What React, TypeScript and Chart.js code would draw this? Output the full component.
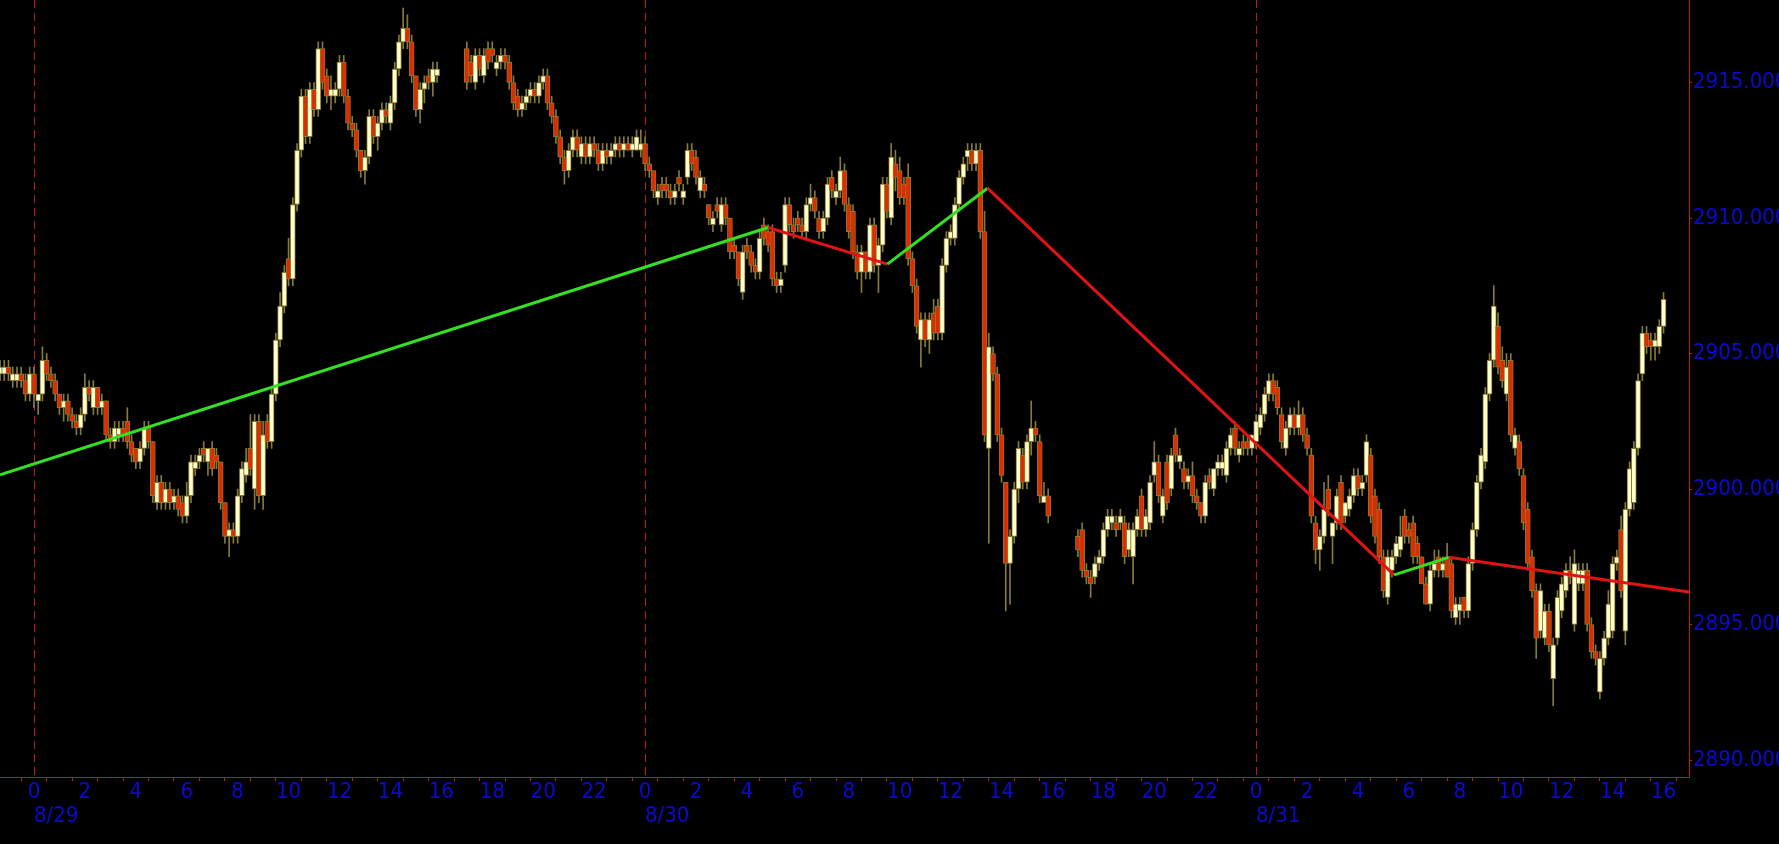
import React, { useEffect, useRef } from 'react';
import { Chart, registerables } from 'chart.js';

Chart.register(...registerables);

// time axis in minutes from 8/29 00:00, 10-minute bars
const sessions: number[][] = [[-80, 950], [1020, 2390], [2460, 3840]];
const dayStarts = [0, 1440, 2880];
const dayLabels = ['8/29', '8/30', '8/31'];
const yTickValues = [2890, 2895, 2900, 2905, 2910, 2915];

// zigzag pivots
const zigzagTimes = [-80, 1730, 2011, 2247, 3205, 3334, 3900];
const zigzagPrices = [2900.52, 2909.65, 2908.3, 2911.1, 2896.83, 2897.48, 2896.2];

const opens = [
  2904.25, 2904.25, 2904.5, 2904.0, 2904.0, 2904.25, 2904.0, 2903.5,
  2904.25, 2903.25, 2903.5, 2904.75, 2904.25, 2904.0,
  2903.5, 2903.0, 2903.25, 2902.75, 2902.5, 2902.25,
  2902.75, 2903.75, 2903.0, 2903.75, 2903.0, 2903.25,
  2902.0, 2901.75, 2902.0, 2902.25, 2902.5, 2901.75,
  2901.5, 2901.0, 2901.5, 2902.25, 2901.75, 2899.5,
  2900.25, 2899.5, 2900.0, 2899.5, 2899.75, 2899.5,
  2899.0, 2899.75, 2900.75, 2901.0, 2901.5, 2901.0,
  2901.5, 2901.25, 2901.0, 2899.5, 2898.25, 2898.5,
  2898.25, 2899.75, 2900.5, 2901.5, 2900.0, 2902.5,
  2899.75, 2902.5, 2901.75, 2903.5, 2905.5, 2906.75,
  2908.5, 2907.75, 2910.5, 2912.5, 2914.5, 2913.0,
  2914.75, 2914.0, 2916.25, 2915.25, 2914.5, 2914.5,
  2914.75, 2915.75, 2914.5, 2913.5, 2913.25, 2912.5,
  2911.75, 2912.25, 2913.75, 2913.0, 2913.5, 2914.0,
  2913.5, 2914.25, 2915.5, 2916.5, 2917.0, 2916.5,
  2915.25, 2914.0, 2914.75, 2915.25, 2915.0, 2915.25,
  // session 2
  2916.25, 2915.75, 2915.0, 2916.0, 2915.25, 2916.25,
  2916.25, 2915.5, 2915.75, 2916.0, 2915.75, 2915.0,
  2914.5, 2914.0, 2914.25, 2914.5, 2914.75, 2914.5,
  2915.0, 2915.25, 2914.25, 2913.75, 2913.0, 2912.25,
  2911.75, 2912.5, 2913.0, 2912.25, 2912.75, 2912.25,
  2912.75, 2912.5, 2912.0, 2912.5, 2912.25, 2912.5,
  2912.75, 2912.5, 2912.75, 2912.5, 2912.5, 2912.5,
  2912.75, 2912.0, 2911.75, 2910.75, 2911.25, 2911.25,
  2911.0, 2910.75, 2911.5, 2910.75, 2911.5, 2912.5,
  2912.25, 2911.0, 2911.25, 2910.5, 2909.75, 2910.5,
  2909.75, 2910.5, 2910.0, 2909.0, 2908.75, 2907.25,
  2909.0, 2908.75, 2908.25, 2908.0, 2909.75, 2909.5,
  2909.5, 2907.75, 2907.5, 2908.25, 2910.5, 2909.75,
  2910.0, 2909.75, 2909.5, 2910.5, 2910.75, 2910.0,
  2909.5, 2910.0, 2911.5, 2910.75, 2911.0, 2911.75,
  2910.5, 2910.25, 2908.75, 2908.0, 2908.75, 2908.0,
  2909.75, 2908.25, 2909.0, 2911.25, 2910.0, 2912.0,
  2911.75, 2911.25, 2911.5, 2908.5, 2907.5, 2905.5,
  2906.25, 2905.5, 2906.5, 2906.75, 2905.75, 2908.25,
  2909.25, 2909.25, 2910.5, 2911.5, 2912.25, 2912.5,
  2912.0, 2912.5, 2909.5, 2901.5, 2905.0, 2904.25,
  2902.0, 2900.25, 2897.25, 2898.25, 2900.0, 2901.25,
  2900.25, 2901.75, 2902.25, 2901.75, 2899.5, 2899.75,
  // session 3
  2898.25, 2898.5, 2897.0, 2896.75, 2896.75, 2897.25,
  2897.5, 2898.5, 2898.75, 2898.75, 2898.75, 2898.75,
  2897.75, 2897.5, 2898.5, 2899.75, 2898.5, 2898.75,
  2900.5, 2901.0, 2899.0, 2901.0, 2900.0, 2902.0,
  2901.0, 2900.75, 2900.25, 2900.5, 2899.75, 2899.5,
  2899.0, 2900.5, 2900.0, 2900.75, 2900.75, 2900.5,
  2901.5, 2902.25, 2901.25, 2901.75, 2901.75, 2901.5,
  2901.75, 2902.25, 2902.75, 2903.5, 2904.0, 2903.75,
  2902.75, 2901.5, 2902.25, 2902.75, 2902.25, 2902.75,
  2902.0, 2901.25, 2898.75, 2897.75, 2898.25, 2900.0,
  2898.25, 2898.75, 2900.25, 2899.0, 2899.25, 2899.75,
  2900.5, 2900.0, 2900.5, 2901.25, 2899.75, 2899.25,
  2897.5, 2896.0, 2897.0, 2897.5, 2897.75, 2899.0,
  2898.5, 2898.75, 2898.0, 2897.5, 2896.5, 2895.75,
  2897.0, 2897.5, 2897.0, 2897.5, 2897.25, 2895.25,
  2895.5, 2896.0, 2895.5, 2897.25, 2898.5, 2900.25,
  2901.0, 2903.5, 2904.75, 2906.0, 2904.75, 2903.5,
  2904.75, 2901.5, 2901.75, 2900.5, 2899.25, 2897.5,
  2896.25, 2894.75, 2894.5, 2895.5, 2893.0, 2894.5,
  2895.5, 2896.25, 2897.0, 2895.0, 2896.5, 2896.5,
  2897.0, 2895.0, 2894.0, 2892.5, 2893.75, 2894.5,
  2894.75, 2897.25, 2898.5, 2894.75, 2899.25, 2899.5,
  2901.5, 2904.25, 2905.75, 2905.5, 2905.25, 2905.25,
  2906.0,
];

const highs = [
  2904.75, 2904.75, 2904.75, 2904.5, 2904.5, 2904.5, 2904.25, 2904.5,
  2904.5, 2903.5, 2905.25, 2905.0, 2904.5, 2904.25,
  2903.5, 2903.5, 2903.5, 2903.0, 2902.75, 2903.0,
  2904.25, 2904.0, 2904.0, 2903.75, 2903.5, 2903.25,
  2902.25, 2902.5, 2902.5, 2902.5, 2903.0, 2902.0,
  2901.5, 2901.75, 2902.5, 2902.5, 2901.75, 2900.5,
  2900.5, 2900.25, 2900.25, 2900.0, 2900.0, 2899.75,
  2900.25, 2901.25, 2901.25, 2901.5, 2901.75, 2901.5,
  2901.75, 2901.5, 2901.0, 2899.5, 2898.75, 2898.75,
  2900.0, 2901.0, 2901.5, 2902.75, 2902.75, 2902.75,
  2902.5, 2902.75, 2903.75, 2905.75, 2907.25, 2908.25,
  2909.25, 2910.75, 2912.75, 2914.75, 2914.75, 2915.0,
  2915.0, 2916.5, 2916.5, 2915.5, 2915.25, 2915.0,
  2916.0, 2916.0, 2914.75, 2913.75, 2913.5, 2912.5,
  2912.5, 2914.0, 2914.0, 2913.75, 2914.25, 2914.25,
  2914.5, 2915.75, 2916.75, 2917.75, 2917.5, 2916.75,
  2915.25, 2915.0, 2915.25, 2915.5, 2915.75, 2915.75,
  // session 2
  2916.5, 2916.0, 2916.25, 2916.25, 2916.25, 2916.5,
  2916.5, 2916.0, 2916.25, 2916.25, 2916.0, 2915.25,
  2914.75, 2914.5, 2914.75, 2915.0, 2915.0, 2915.25,
  2915.5, 2915.5, 2914.5, 2914.0, 2913.25, 2912.5,
  2912.75, 2913.25, 2913.25, 2913.0, 2913.0, 2913.0,
  2913.0, 2912.75, 2912.75, 2912.75, 2912.75, 2913.0,
  2913.0, 2913.0, 2913.0, 2913.0, 2913.25, 2913.25,
  2913.0, 2912.25, 2911.75, 2911.25, 2911.5, 2911.5,
  2911.25, 2911.25, 2911.75, 2911.25, 2912.75, 2912.75,
  2912.5, 2911.75, 2911.5, 2910.5, 2910.25, 2910.75,
  2910.75, 2910.75, 2910.0, 2909.25, 2908.75, 2909.0,
  2909.25, 2909.0, 2908.5, 2909.5, 2910.0, 2909.75,
  2909.75, 2908.0, 2908.0, 2910.75, 2910.75, 2910.0,
  2910.25, 2910.0, 2910.75, 2911.25, 2911.0, 2910.25,
  2910.25, 2911.5, 2911.75, 2911.25, 2912.25, 2912.0,
  2910.75, 2910.5, 2909.0, 2909.0, 2908.75, 2910.0,
  2910.0, 2909.25, 2911.5, 2911.5, 2912.75, 2912.5,
  2912.25, 2911.5, 2912.0, 2908.75, 2907.75, 2906.5,
  2906.5, 2906.5, 2907.0, 2907.0, 2908.5, 2909.5,
  2909.75, 2910.75, 2911.75, 2912.25, 2912.75, 2912.75,
  2912.75, 2912.75, 2910.25, 2905.75, 2905.25, 2904.5,
  2902.25, 2900.25, 2898.5, 2900.25, 2901.75, 2901.5,
  2902.0, 2903.25, 2902.5, 2902.0, 2900.25, 2900.0,
  // session 3
  2898.5, 2898.75, 2897.25, 2897.0, 2897.5, 2897.75,
  2898.75, 2899.25, 2899.25, 2899.0, 2899.25, 2899.0,
  2898.75, 2898.75, 2899.25, 2900.0, 2899.25, 2900.5,
  2901.75, 2901.25, 2900.0, 2901.25, 2901.5, 2902.25,
  2901.5, 2901.0, 2900.75, 2901.0, 2900.0, 2899.5,
  2900.5, 2900.75, 2900.75, 2901.25, 2901.25, 2901.75,
  2902.25, 2902.5, 2901.75, 2902.0, 2902.0, 2902.0,
  2902.75, 2903.0, 2903.75, 2904.25, 2904.25, 2904.0,
  2903.0, 2902.5, 2903.0, 2903.0, 2903.25, 2903.0,
  2902.25, 2901.5, 2899.0, 2898.5, 2900.25, 2900.5,
  2898.75, 2900.0, 2900.5, 2899.5, 2900.0, 2900.75,
  2900.75, 2900.5, 2902.0, 2901.5, 2900.0, 2899.5,
  2897.75, 2897.75, 2897.75, 2898.25, 2899.0, 2899.25,
  2898.75, 2899.0, 2898.25, 2897.5, 2896.75, 2897.25,
  2897.75, 2897.75, 2897.5, 2898.0, 2897.5, 2896.0,
  2896.0, 2896.0, 2897.5, 2898.75, 2900.5, 2901.5,
  2903.75, 2905.0, 2907.5, 2906.5, 2905.25, 2905.0,
  2905.0, 2902.25, 2902.0, 2900.75, 2899.5, 2897.75,
  2896.5, 2896.5, 2895.75, 2895.75, 2894.5, 2896.25,
  2896.75, 2897.25, 2897.5, 2897.75, 2897.25, 2897.25,
  2897.25, 2895.25, 2894.25, 2894.0, 2894.75, 2896.25,
  2897.5, 2897.75, 2899.0, 2899.5, 2901.0, 2901.75,
  2904.25, 2906.0, 2906.0, 2905.75, 2905.75, 2906.25,
  2907.25,
];

const lows = [
  2904.0, 2904.0, 2904.0, 2903.75, 2903.75, 2903.75, 2903.25, 2903.25,
  2903.0, 2902.75, 2903.25, 2904.0, 2903.75, 2903.25,
  2902.75, 2902.5, 2902.5, 2902.25, 2902.0, 2902.0,
  2902.5, 2903.25, 2902.75, 2902.75, 2902.75, 2901.75,
  2901.5, 2901.5, 2901.75, 2901.75, 2901.5, 2901.0,
  2900.75, 2900.75, 2901.25, 2901.5, 2899.5, 2899.25,
  2899.25, 2899.25, 2899.25, 2899.25, 2899.0, 2898.75,
  2898.75, 2899.5, 2900.5, 2900.75, 2901.0, 2900.5,
  2900.5, 2900.75, 2899.25, 2898.0, 2897.5, 2898.0,
  2898.0, 2899.5, 2900.25, 2900.5, 2899.25, 2899.5,
  2899.25, 2901.5, 2901.5, 2903.25, 2905.25, 2906.5,
  2907.5, 2907.5, 2910.25, 2912.25, 2912.75, 2912.75,
  2913.75, 2913.75, 2914.75, 2914.25, 2914.0, 2914.25,
  2914.5, 2914.25, 2913.25, 2913.0, 2912.25, 2911.5,
  2911.25, 2912.0, 2912.75, 2912.5, 2913.25, 2913.5,
  2913.25, 2914.0, 2915.25, 2916.25, 2916.25, 2915.0,
  2913.75, 2913.5, 2914.25, 2914.75, 2914.5, 2915.0,
  // session 2
  2914.75, 2915.0, 2914.75, 2915.25, 2915.0, 2915.5,
  2915.75, 2915.25, 2915.5, 2915.5, 2914.75, 2914.0,
  2913.75, 2913.75, 2914.0, 2914.25, 2914.25, 2914.25,
  2914.75, 2914.0, 2913.5, 2912.75, 2912.0, 2911.25,
  2911.5, 2912.25, 2912.25, 2912.0, 2912.0, 2912.0,
  2912.25, 2911.75, 2911.75, 2912.0, 2912.0, 2912.25,
  2912.25, 2912.25, 2912.5, 2912.25, 2912.5, 2912.25,
  2911.75, 2911.5, 2910.75, 2910.5, 2910.75, 2910.75,
  2910.5, 2910.5, 2911.0, 2910.5, 2911.25, 2911.75,
  2911.25, 2910.75, 2910.75, 2909.75, 2909.5, 2910.0,
  2909.5, 2909.75, 2908.5, 2908.5, 2907.5, 2907.0,
  2908.5, 2908.0, 2907.75, 2907.75, 2909.0, 2908.75,
  2907.5, 2907.25, 2907.25, 2908.0, 2909.5, 2909.25,
  2909.5, 2909.25, 2909.25, 2910.25, 2910.0, 2909.25,
  2909.25, 2909.75, 2910.75, 2910.5, 2910.75, 2910.25,
  2909.25, 2908.5, 2907.75, 2907.25, 2907.75, 2907.75,
  2908.0, 2907.25, 2908.75, 2910.0, 2909.75, 2911.0,
  2910.5, 2910.5, 2908.25, 2907.25, 2905.75, 2904.5,
  2905.25, 2905.0, 2905.5, 2905.5, 2905.5, 2908.0,
  2909.0, 2909.0, 2910.25, 2911.25, 2911.75, 2911.75,
  2911.75, 2909.25, 2901.75, 2898.0, 2904.0, 2901.75,
  2900.25, 2895.5, 2895.75, 2898.0, 2899.5, 2900.0,
  2900.0, 2901.25, 2901.75, 2899.5, 2899.5, 2898.75,
  // session 3
  2897.5, 2896.75, 2896.5, 2896.0, 2896.5, 2897.0,
  2897.25, 2898.25, 2898.5, 2898.25, 2898.5, 2897.25,
  2897.5, 2896.5, 2898.25, 2898.25, 2898.25, 2898.5,
  2900.25, 2899.5, 2898.75, 2899.25, 2899.75, 2901.0,
  2900.75, 2900.0, 2900.0, 2899.5, 2899.25, 2898.75,
  2898.75, 2900.0, 2899.75, 2900.5, 2900.5, 2900.25,
  2901.25, 2901.25, 2901.0, 2901.25, 2901.25, 2901.25,
  2901.5, 2902.0, 2902.5, 2903.25, 2903.25, 2902.75,
  2901.5, 2901.25, 2902.0, 2902.0, 2902.0, 2901.75,
  2901.25, 2898.75, 2897.25, 2897.0, 2898.0, 2899.0,
  2897.25, 2898.5, 2898.5, 2898.75, 2899.0, 2899.5,
  2899.75, 2899.75, 2900.25, 2898.75, 2898.0, 2897.25,
  2896.0, 2895.75, 2896.75, 2897.25, 2897.5, 2898.0,
  2898.0, 2897.25, 2897.25, 2896.5, 2895.75, 2895.5,
  2896.75, 2896.75, 2896.75, 2896.75, 2895.25, 2895.0,
  2895.0, 2895.25, 2895.25, 2897.0, 2898.25, 2900.0,
  2900.75, 2903.25, 2904.5, 2904.25, 2903.75, 2903.25,
  2901.75, 2901.25, 2900.5, 2898.5, 2897.0, 2896.0,
  2893.75, 2894.5, 2894.25, 2894.0, 2892.0, 2894.25,
  2895.25, 2896.0, 2896.5, 2894.75, 2896.25, 2896.25,
  2894.75, 2893.75, 2893.5, 2892.25, 2893.5, 2894.25,
  2894.5, 2897.0, 2896.0, 2894.25, 2899.0, 2899.25,
  2901.25, 2904.0, 2905.0, 2904.75, 2904.75, 2905.0,
  2905.75,
];

const closes = [
  2904.5, 2904.5, 2904.25, 2904.25, 2904.25, 2904.0, 2903.5, 2904.25,
  2903.5, 2903.5, 2904.75, 2904.25, 2904.0, 2903.5,
  2903.0, 2903.25, 2902.75, 2902.5, 2902.25, 2902.75,
  2903.75, 2903.5, 2903.75, 2903.0, 2903.25, 2902.0,
  2901.75, 2902.25, 2902.25, 2902.0, 2901.75, 2901.25,
  2901.0, 2901.5, 2902.25, 2901.75, 2899.75, 2900.25,
  2899.5, 2900.0, 2899.5, 2899.75, 2899.25, 2899.0,
  2899.75, 2901.0, 2901.0, 2901.25, 2901.25, 2901.5,
  2900.75, 2901.0, 2899.5, 2898.25, 2898.5, 2898.25,
  2899.75, 2900.75, 2901.0, 2900.75, 2902.5, 2899.75,
  2902.0, 2901.75, 2903.5, 2905.5, 2906.75, 2908.0,
  2907.75, 2910.5, 2912.5, 2914.5, 2913.0, 2914.75,
  2914.0, 2916.25, 2915.0, 2914.5, 2914.75, 2914.75,
  2915.75, 2914.5, 2913.5, 2913.25, 2912.5, 2911.75,
  2912.25, 2913.75, 2913.0, 2913.5, 2914.0, 2913.75,
  2914.25, 2915.5, 2916.5, 2917.0, 2916.5, 2915.25,
  2914.0, 2914.75, 2915.0, 2915.0, 2915.5, 2915.5,
  // session 2
  2915.0, 2915.25, 2916.0, 2915.5, 2916.0, 2915.75,
  2916.0, 2915.75, 2916.0, 2915.75, 2915.0, 2914.25,
  2914.0, 2914.25, 2914.5, 2914.75, 2914.5, 2915.0,
  2915.25, 2914.25, 2913.75, 2913.0, 2912.25, 2911.75,
  2912.5, 2913.0, 2912.5, 2912.75, 2912.25, 2912.75,
  2912.5, 2912.0, 2912.5, 2912.25, 2912.5, 2912.75,
  2912.5, 2912.75, 2912.5, 2912.75, 2913.0, 2912.75,
  2912.0, 2911.75, 2911.0, 2911.0, 2911.0, 2911.0,
  2910.75, 2911.0, 2911.25, 2911.0, 2912.5, 2912.0,
  2911.5, 2911.5, 2911.0, 2910.0, 2910.0, 2910.25,
  2910.5, 2910.0, 2908.75, 2908.75, 2907.75, 2908.75,
  2908.75, 2908.25, 2908.0, 2909.25, 2909.25, 2909.0,
  2907.75, 2907.5, 2907.75, 2910.5, 2909.75, 2909.5,
  2909.75, 2909.5, 2910.5, 2910.75, 2910.25, 2909.5,
  2910.0, 2911.25, 2911.0, 2911.0, 2911.75, 2910.5,
  2909.5, 2908.75, 2908.0, 2908.75, 2908.0, 2909.75,
  2908.25, 2909.0, 2911.25, 2910.25, 2912.25, 2911.5,
  2910.75, 2910.75, 2908.5, 2907.5, 2906.0, 2906.25,
  2905.5, 2906.25, 2905.75, 2905.75, 2908.25, 2909.25,
  2909.5, 2910.5, 2911.5, 2912.0, 2912.5, 2912.0,
  2912.5, 2909.5, 2902.0, 2905.25, 2904.25, 2902.0,
  2900.5, 2897.25, 2898.25, 2900.0, 2901.5, 2900.25,
  2901.75, 2902.25, 2902.0, 2899.75, 2899.75, 2899.0,
  // session 3
  2897.75, 2897.0, 2896.75, 2896.5, 2897.25, 2897.5,
  2898.5, 2899.0, 2899.0, 2898.5, 2899.0, 2897.5,
  2898.5, 2898.5, 2899.0, 2898.5, 2899.0, 2900.25,
  2901.0, 2899.75, 2899.75, 2899.5, 2901.25, 2901.25,
  2901.25, 2900.25, 2900.5, 2899.75, 2899.5, 2899.0,
  2900.25, 2900.25, 2900.75, 2901.0, 2901.0, 2901.5,
  2902.0, 2901.5, 2901.5, 2901.5, 2901.5, 2902.0,
  2902.5, 2902.75, 2903.5, 2904.0, 2903.5, 2903.0,
  2901.75, 2902.25, 2902.75, 2902.25, 2902.75, 2902.0,
  2901.5, 2899.0, 2897.75, 2898.25, 2899.25, 2899.25,
  2898.75, 2899.75, 2898.75, 2899.5, 2899.75, 2900.5,
  2900.0, 2900.25, 2901.75, 2899.0, 2898.25, 2897.5,
  2896.25, 2897.5, 2897.5, 2898.0, 2898.25, 2898.25,
  2898.25, 2897.5, 2897.5, 2896.5, 2895.75, 2897.0,
  2897.25, 2897.0, 2897.25, 2896.75, 2895.5, 2895.75,
  2895.75, 2895.5, 2897.25, 2898.5, 2900.25, 2901.25,
  2903.5, 2904.75, 2906.75, 2904.5, 2904.0, 2904.5,
  2902.0, 2902.0, 2900.75, 2898.75, 2897.25, 2896.25,
  2894.5, 2896.25, 2895.5, 2894.25, 2894.25, 2896.0,
  2896.5, 2897.0, 2896.75, 2897.25, 2897.0, 2897.0,
  2895.0, 2894.0, 2893.75, 2893.75, 2894.5, 2895.75,
  2897.25, 2897.5, 2896.25, 2899.25, 2900.75, 2901.5,
  2904.0, 2905.75, 2905.25, 2905.25, 2905.5, 2906.0,
  2907.0,
];

const FONT = "'Liberation Sans Narrow', 'DejaVu Sans Condensed', 'Liberation Sans', sans-serif";
const BLUE = '#0a0ad2';
const AXIS = '#b81c1c';
const UP_FILL = '#ffffcc';
const DOWN_FILL = '#e02a00';
const CANDLE_EDGE = '#8a7a30';
const WICK = '#857a3c';
const ZZ_UP = '#33e022';
const ZZ_DOWN = '#e01414';

export default function App() {
  const ref = useRef<HTMLCanvasElement>(null);

  useEffect(() => {
    document.body.style.margin = '0';
    document.body.style.background = '#000';
    const times: number[] = [];
    sessions.forEach(([a, b]) => {
      for (let t = a; t <= b; t += 10) times.push(t);
    });
    const n = Math.min(times.length, opens.length, highs.length, lows.length, closes.length);
    const idx = Array.from({ length: n }, (_, i) => i);

    const bodies = idx.map((i) => {
      const o = opens[i];
      const c = closes[i];
      const lo = Math.min(o, c);
      const hi = Math.max(o, c);
      return { x: times[i], y: hi - lo < 0.05 ? [lo - 0.03, hi + 0.03] : [lo, hi] };
    });
    const bodyColors = idx.map((i) => (closes[i] >= opens[i] ? UP_FILL : DOWN_FILL));
    const wicks = idx.map((i) => ({ x: times[i], y: [lows[i], highs[i]] }));
    const zz = zigzagTimes.map((t, i) => ({ x: t, y: zigzagPrices[i] }));

    const hourTicks: number[] = [];
    for (let v = -60; v <= 3840; v += 60) hourTicks.push(v);

    const bgPlugin = {
      id: 'bg',
      beforeDraw(c: any) {
        const ctx = c.ctx;
        ctx.save();
        ctx.fillStyle = '#000';
        ctx.fillRect(0, 0, c.width, c.height);
        ctx.restore();
      },
    };

    const dayPlugin = {
      id: 'days',
      beforeDatasetsDraw(c: any) {
        const { ctx, chartArea, scales } = c;
        ctx.save();
        ctx.strokeStyle = AXIS;
        ctx.lineWidth = 1;
        ctx.setLineDash([8, 5]);
        dayStarts.forEach((d) => {
          const px = Math.round(scales.x.getPixelForValue(d)) + 0.5;
          ctx.beginPath();
          ctx.moveTo(px, chartArea.top);
          ctx.lineTo(px, chartArea.bottom);
          ctx.stroke();
        });
        ctx.restore();
      },
      afterDraw(c: any) {
        const { ctx, scales } = c;
        ctx.save();
        ctx.font = `22px ${FONT}`;
        ctx.fillStyle = BLUE;
        ctx.textAlign = 'left';
        ctx.textBaseline = 'middle';
        dayLabels.forEach((l, i) => {
          ctx.fillText(l, Math.round(scales.x.getPixelForValue(dayStarts[i])), 816);
        });
        ctx.restore();
      },
    };

    const chart = new Chart(ref.current as HTMLCanvasElement, {
      type: 'bar',
      data: {
        datasets: [
          {
            type: 'line',
            data: zz,
            borderWidth: 3,
            pointRadius: 0,
            tension: 0,
            borderColor: ZZ_UP,
            segment: {
              borderColor: (ctx: any) => (ctx.p1.parsed.y >= ctx.p0.parsed.y ? ZZ_UP : ZZ_DOWN),
            },
            order: 0,
          } as any,
          {
            type: 'bar',
            data: bodies as any,
            backgroundColor: bodyColors,
            borderColor: CANDLE_EDGE,
            borderWidth: 1,
            borderSkipped: false,
            barThickness: 5,
            grouped: false,
            order: 1,
          } as any,
          {
            type: 'bar',
            data: wicks as any,
            backgroundColor: WICK,
            borderWidth: 0,
            barThickness: 1,
            grouped: false,
            order: 2,
          } as any,
        ],
      },
      options: {
        responsive: false,
        animation: false,
        events: [],
        layout: { padding: 0 },
        plugins: { legend: { display: false }, tooltip: { enabled: false } },
        scales: {
          x: {
            type: 'linear',
            min: -80,
            max: 3900,
            offset: false,
            position: 'bottom',
            afterBuildTicks: (s: any) => {
              s.ticks = hourTicks.map((v) => ({ value: v }));
            },
            afterFit: (s: any) => {
              s.height = 67;
              s.paddingLeft = 0;
              s.paddingRight = 0;
            },
            ticks: {
              autoSkip: false,
              maxRotation: 0,
              minRotation: 0,
              color: BLUE,
              padding: 0,
              font: { family: FONT, size: 22, lineHeight: 1 },
              callback: (v: any) => {
                const h = (((Number(v) / 60) % 24) + 24) % 24;
                return h % 2 === 0 ? String(h) : '';
              },
            },
            grid: { drawOnChartArea: false, drawTicks: true, tickLength: 4, color: AXIS },
            border: { display: true, color: AXIS, width: 1 },
          },
          y: {
            type: 'linear',
            position: 'right',
            min: 2889.373,
            max: 2918.045,
            afterBuildTicks: (s: any) => {
              s.ticks = yTickValues.map((v) => ({ value: v }));
            },
            afterFit: (s: any) => {
              s.width = 90;
              s.paddingTop = 0;
              s.paddingBottom = 0;
            },
            ticks: {
              color: BLUE,
              padding: 1,
              font: { family: FONT, size: 22, lineHeight: 1 },
              callback: (v: any) => Number(v).toFixed(4),
            },
            grid: { drawOnChartArea: false, drawTicks: true, tickLength: 3, color: AXIS },
            border: { display: true, color: AXIS, width: 1 },
          },
        },
      },
      plugins: [bgPlugin, dayPlugin],
    } as any);

    return () => chart.destroy();
  }, []);

  return (
    <div style={{ width: 1779, height: 844, background: '#000' }}>
      <canvas ref={ref} width={1779} height={844} style={{ display: 'block' }} />
    </div>
  );
}
